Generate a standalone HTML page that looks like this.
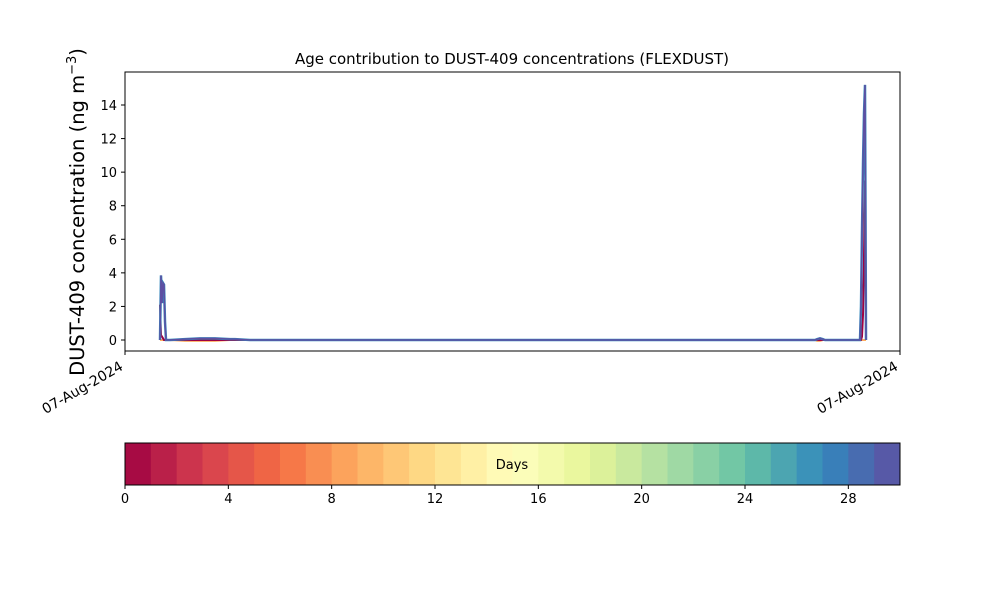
<!DOCTYPE html>
<html><head><meta charset="utf-8"><style>
body{margin:0;background:#fff;font-family:"Liberation Sans","DejaVu Sans",sans-serif}
svg text{font-family:"DejaVu Sans","Liberation Sans",sans-serif;fill:#000}
</style></head><body>
<svg id="c" width="1000" height="600" xmlns="http://www.w3.org/2000/svg"></svg>
<script>
// data: time offsets (hours from start) and concentrations
const times = [35,36,37,38,39,40,41,45,60,75,90,105,110,125,690,692,695,698,700,735,736,737,738,739,740,740.5,741];
const totalVals = [0,3.85,2.2,3.4,3.3,1.1,0,0,0.05,0.1,0.1,0.05,0.05,0,0,0.05,0.1,0.05,0,0,2.0,6.5,10.5,13.5,15.2,8,0];
const redVals   = [2.1,0.3,0.2,0.1,0,0,0,0,0,0,0,0,0,0,0,0,0,0,0,0,0,0.2,1.5,5.0,9.5,5,0];
const orangeVals= [0,0,0,0,0,0,0,0,-0.05,-0.05,-0.05,0,0,0,0,-0.05,-0.05,0,0,0,0,0,0,0,0,0,0];
const yTicks = [0,2,4,6,8,10,12,14];
const cbTicks = [0,4,8,12,16,20,24,28];
const nDays = 30;

const svg=document.getElementById('c');const NS='http://www.w3.org/2000/svg';
function el(t,a,p){const e=document.createElementNS(NS,t);for(const k in a)e.setAttribute(k,a[k]);(p||svg).appendChild(e);return e;}
const X0=125,X1=900,Y0=72,Y1=351;
const xs=t=>X0+t;
const ys=v=>340-v*(340-105)/14;

const title=el('text',{x:512,y:64,'text-anchor':'middle','font-size':15});
title.textContent='Age contribution to DUST-409 concentrations (FLEXDUST)';



function series(vals,color,name,w){
  const p=el('polyline',{points:times.map((t,i)=>xs(t)+','+ys(vals[i])).join(' '),fill:'none',stroke:color,'stroke-width':w});
  
  
}
series(orangeVals,'#fdae61','series-orange',2);
series(redVals,'#9e0142','series-red',2);
series(totalVals,'#3288bd','series-blue',2.5);
series(totalVals,'#5e4fa2','series-total',1.5);

const frame=el('rect',{x:X0,y:Y0,width:X1-X0,height:Y1-Y0,fill:'none',stroke:'#000','stroke-width':1});



yTicks.forEach(v=>{
  const y=ys(v);
  el('line',{x1:X0-4,x2:X0,y1:y,y2:y,stroke:'#000'});
  const t=el('text',{x:X0-8,y:y+5,'text-anchor':'end','font-size':13});
  t.textContent=v;
  
  
});
const yl=el('text',{x:0,y:0,'text-anchor':'middle','font-size':19.5,transform:'translate(84,212) rotate(-90)'});
yl.innerHTML='DUST-409 concentration (ng m<tspan dy="-8" font-size="13">−3</tspan><tspan dy="8">)</tspan>';



[X0,X1].forEach(x=>{
  el('line',{x1:x,x2:x,y1:Y1,y2:Y1+4,stroke:'#000'});
  const t=el('text',{x:0,y:0,'text-anchor':'end','font-size':14,transform:`translate(${x-1},${Y1+18}) rotate(-30)`});
  t.textContent='07-Aug-2024';
  
  
});

// colorbar
const spec=['#9e0142','#d53e4f','#f46d43','#fdae61','#fee08b','#ffffbf','#e6f598','#abdda4','#66c2a5','#3288bd','#5e4fa2'];
function hex(h){return [1,3,5].map(i=>parseInt(h.substr(i,2),16));}
function cmap(f){const s=f*10,i=Math.min(9,Math.floor(s)),r=s-i,a=hex(spec[i]),b=hex(spec[i+1]);return 'rgb('+a.map((v,k)=>Math.round(v+(b[k]-v)*r)).join(',')+')';}
const CX0=125,CX1=900,CY0=443,CY1=485,cw=(CX1-CX0)/nDays;
for(let i=0;i<nDays;i++){
  const r=el('rect',{x:CX0+i*cw,y:CY0,width:cw+0.5,height:CY1-CY0,fill:cmap((i+0.5)/nDays)});
  
  
}
const cbf=el('rect',{x:CX0,y:CY0,width:CX1-CX0,height:CY1-CY0,fill:'none',stroke:'#000'});


const dl=el('text',{x:512,y:469,'text-anchor':'middle','font-size':13});
dl.textContent='Days';


cbTicks.forEach(v=>{
  const x=CX0+v*cw;
  el('line',{x1:x,x2:x,y1:CY1,y2:CY1+4,stroke:'#000'});
  const t=el('text',{x:x,y:CY1+18,'text-anchor':'middle','font-size':13});
  t.textContent=v;
  
  
});
</script>
</body></html>
